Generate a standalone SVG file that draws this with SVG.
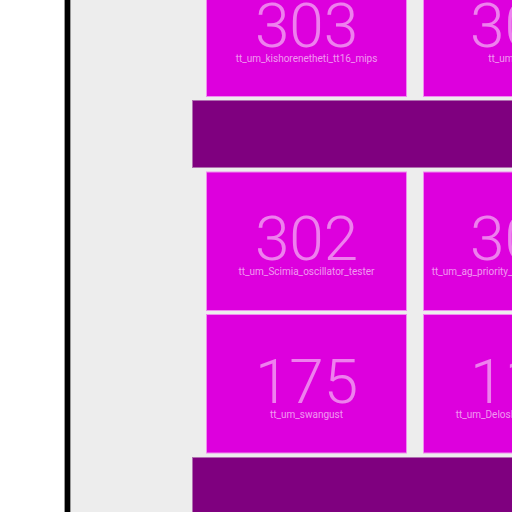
<svg xmlns="http://www.w3.org/2000/svg" width="512" height="512" viewBox="0 0 512 512">
<style>
.tile{fill:#dd00dd;stroke:#f08cf0;stroke-width:1}
.bar{fill:#7f007f;stroke:#b070b0;stroke-width:1}
.num{font-family:Roboto,"Liberation Sans",sans-serif;font-weight:300;font-size:62px;fill:#ffffff;fill-opacity:0.5}
.lbl{font-family:Roboto,"Liberation Sans",sans-serif;font-size:10px;fill:#ffffff;fill-opacity:0.6}
</style>
<rect x="0" y="0" width="512" height="512" fill="#ffffff"/>
<rect x="71" y="0" width="441" height="512" fill="#ededed"/>
<rect x="64.5" y="-1" width="6" height="514" fill="#000000" stroke="#999999" stroke-width="1"/>
<g id="bar1"><rect class="bar" x="192.5" y="100.5" width="330" height="67"/></g>
<g id="bar2"><rect class="bar" x="192.5" y="457.5" width="330" height="60"/></g>
<g id="n303"><rect class="tile" x="206.5" y="-42" width="200" height="138.5"/>
<text class="num" x="306.5" y="46.5" text-anchor="middle">303</text>
<text class="lbl" x="306.5" y="61.5" text-anchor="middle">tt_um_kishorenetheti_tt16_mips</text></g>
<g id="n30a"><rect class="tile" x="423.5" y="-42" width="200" height="138.5"/>
<text class="num" x="470" y="46.5">30</text>
<text class="lbl" x="488.3" y="61.5">tt_um_</text></g>
<g id="n302"><rect class="tile" x="206.5" y="172" width="200" height="138.5"/>
<text class="num" x="306.5" y="260" text-anchor="middle">302</text>
<text class="lbl" x="306.5" y="275" text-anchor="middle">tt_um_Scimia_oscillator_tester</text></g>
<g id="n30b"><rect class="tile" x="423.5" y="172" width="200" height="138.5"/>
<text class="num" x="470" y="260">30</text>
<text class="lbl" x="431.7" y="275">tt_um_ag_priority_</text></g>
<g id="n175"><rect class="tile" x="206.5" y="314.5" width="200" height="138.5"/>
<text class="num" x="306.5" y="402.5" text-anchor="middle">175</text>
<text class="lbl" x="306.5" y="417.5" text-anchor="middle">tt_um_swangust</text></g>
<g id="n11x"><rect class="tile" x="423.5" y="314.5" width="200" height="138.5"/>
<text class="num" x="470" y="402.5">11</text>
<text class="lbl" x="455.7" y="417.5">tt_um_Delosl</text></g>
<g id="connectors"/>
</svg>
